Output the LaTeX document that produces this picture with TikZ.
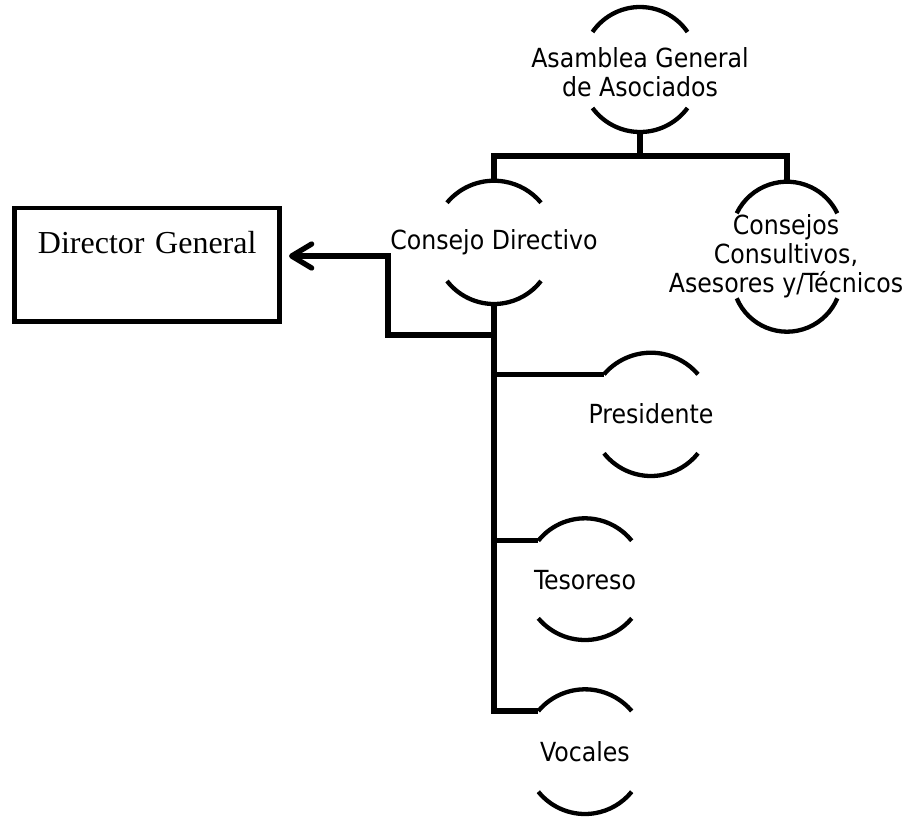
\documentclass[tikz,border=0pt]{standalone}
\usepackage{fontspec}
\setmainfont{DejaVu Sans Condensed}
\newfontfamily\dgfont{Liberation Serif}
\usetikzlibrary{arrows.meta}

% Two facing circular arcs (one above, one below a label).
% #1 name, #2 centre x, #3 half chord, #4 top apex y, #5 top ends y,
% #6 bottom ends y, #7 bottom apex y
\newcommand\arcpair[7]{%
  \pgfmathsetmacro\apS{#5-#4}%
  \pgfmathsetmacro\apR{(#3*#3+\apS*\apS)/(2*\apS)}%
  \pgfmathsetmacro\apA{asin(#3/\apR)}%
  \pgfmathsetmacro\apT{#7-#6}%
  \pgfmathsetmacro\apQ{(#3*#3+\apT*\apT)/(2*\apT)}%
  \pgfmathsetmacro\apB{asin(#3/\apQ)}%
  \draw[arcline] (#2-#3,#5) arc[start angle=90+\apA, end angle=90-\apA, radius=\apR pt];
  \draw[arcline] (#2-#3,#6) arc[start angle=270-\apB, end angle=270+\apB, radius=\apQ pt];
  \coordinate (#1-n) at (#2,#4);
  \coordinate (#1-s) at (#2,#7);
  \coordinate (#1-w) at (#2-#3,#5);
}

\begin{document}
\begin{tikzpicture}[x=1pt,y=-1pt,
  arcline/.style={line width=4.3pt},
  conn/.style={line width=5.3pt},
  lbl/.style={align=center,inner sep=0pt,font=\fontsize{26.3}{29}\selectfont},
  dgbox/.style={draw,line width=4.6pt,inner xsep=0pt,inner ysep=0pt,
    text width=265pt,align=center,text height=45pt,text depth=68.3pt,
    font=\dgfont\fontsize{32}{38}\selectfont}]
\useasboundingbox (0,0) rectangle (909,817);

% labels
\node[lbl] (asam) at (640,72) {Asamblea General\\de Asociados};
\node[lbl] (cd) at (494,242) {Consejo Directivo};
\node[lbl] (cc) at (786,256) {Consejos\\Consultivos,\\Asesores y/Técnicos};
\node[lbl] (pres) at (651,414) {Presidente};
\node[lbl] (tes) at (585,580) {Tesoreso};
\node[lbl] (voc) at (585,752) {Vocales};

% arcs around the labels
\arcpair{asam}{640}{47.5}{7}{32}{108}{132}
\arcpair{cd}{494}{47}{180.7}{202.7}{281}{304}
\arcpair{cc}{787}{50.3}{181.7}{213.3}{298.3}{331.7}
\arcpair{pres}{651}{47}{352.7}{374.3}{453.3}{476}
\arcpair{tes}{585}{46.7}{518.3}{540.7}{618.3}{640}
\arcpair{voc}{585}{46.7}{689.3}{711}{791.7}{814}

% director box
\node[dgbox] (dg) at (147.2,264.7) {Director General};

% connectors
\coordinate (bus) at (640,156);
\coordinate (knee) at (494,335);
\coordinate (elbow) at (388,335);
\coordinate (tip) at (289,256);

\draw[conn] (asam-s) -- (bus);
\draw[conn] (cd-s) |- (voc-w);
\draw[conn] (cd-n) |- (bus) -| (cc-n);
\draw[conn] (cd-s |- pres-w) -- (pres-w);
\draw[conn] (cd-s |- tes-w) -- (tes-w);
\draw[conn,-{Straight Barb[length=20pt,width=24pt,round]}] (knee) -- (elbow) |- (tip);
\end{tikzpicture}
\end{document}
